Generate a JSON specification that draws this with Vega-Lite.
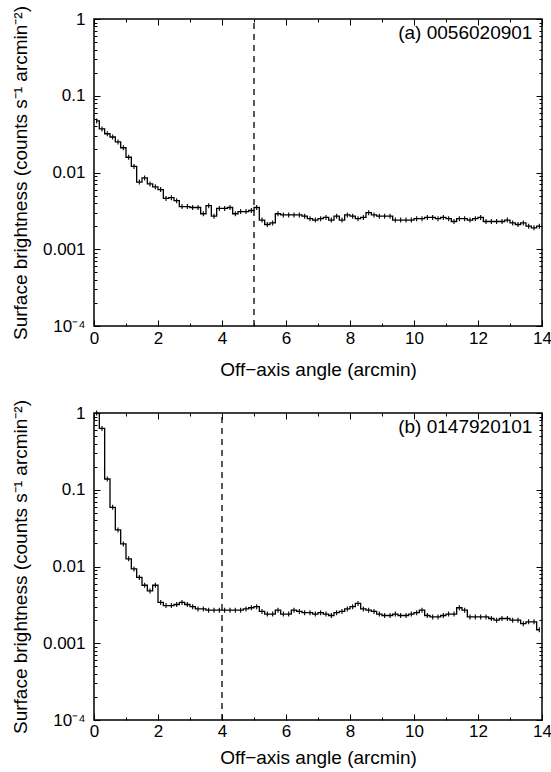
{
  "$schema": "https://vega.github.io/schema/vega-lite/v6.json",
  "background": "white",
  "padding": {"left": 10, "top": 4, "right": 0, "bottom": 0},
  "spacing": 18,
  "config": {
    "font": "Liberation Sans",
    "view": {"stroke": "black", "strokeWidth": 1.5},
    "axis": {"grid": false, "domain": false, "tickColor": "black", "tickWidth": 1, "labelColor": "black", "titleColor": "black", "labelFont": "Liberation Sans", "titleFont": "Liberation Sans", "labelFontSize": 17, "titleFontSize": 19, "titleFontWeight": "normal", "labelFlush": false}
  },
  "datasets": {
    "a": [
      {"x": 0.083, "y": 0.047}, {"x": 0.25, "y": 0.037}, {"x": 0.417, "y": 0.032}, {"x": 0.583, "y": 0.029},
      {"x": 0.75, "y": 0.025}, {"x": 0.917, "y": 0.021}, {"x": 1.083, "y": 0.0158}, {"x": 1.25, "y": 0.012},
      {"x": 1.417, "y": 0.0075}, {"x": 1.583, "y": 0.0085}, {"x": 1.75, "y": 0.0071}, {"x": 1.917, "y": 0.0065},
      {"x": 2.083, "y": 0.006}, {"x": 2.25, "y": 0.0046}, {"x": 2.417, "y": 0.0047}, {"x": 2.583, "y": 0.0043},
      {"x": 2.75, "y": 0.0036}, {"x": 2.917, "y": 0.0036}, {"x": 3.083, "y": 0.0035}, {"x": 3.25, "y": 0.0035},
      {"x": 3.417, "y": 0.0029}, {"x": 3.583, "y": 0.0037}, {"x": 3.75, "y": 0.0027}, {"x": 3.917, "y": 0.0034},
      {"x": 4.083, "y": 0.0034}, {"x": 4.25, "y": 0.0035}, {"x": 4.417, "y": 0.0029}, {"x": 4.583, "y": 0.0031},
      {"x": 4.75, "y": 0.0031}, {"x": 4.917, "y": 0.0032}, {"x": 5.083, "y": 0.0035}, {"x": 5.25, "y": 0.0024},
      {"x": 5.417, "y": 0.0021}, {"x": 5.583, "y": 0.0022}, {"x": 5.75, "y": 0.0029}, {"x": 5.917, "y": 0.0028},
      {"x": 6.083, "y": 0.0028}, {"x": 6.25, "y": 0.0028}, {"x": 6.417, "y": 0.0028}, {"x": 6.583, "y": 0.0027},
      {"x": 6.75, "y": 0.0025}, {"x": 6.917, "y": 0.0024}, {"x": 7.083, "y": 0.0025}, {"x": 7.25, "y": 0.0026},
      {"x": 7.417, "y": 0.0024}, {"x": 7.583, "y": 0.0027}, {"x": 7.75, "y": 0.0024}, {"x": 7.917, "y": 0.0028},
      {"x": 8.083, "y": 0.0027}, {"x": 8.25, "y": 0.0025}, {"x": 8.417, "y": 0.0026}, {"x": 8.583, "y": 0.003},
      {"x": 8.75, "y": 0.0028}, {"x": 8.917, "y": 0.0027}, {"x": 9.083, "y": 0.0027}, {"x": 9.25, "y": 0.0027},
      {"x": 9.417, "y": 0.0024}, {"x": 9.583, "y": 0.0024}, {"x": 9.75, "y": 0.0024}, {"x": 9.917, "y": 0.0024},
      {"x": 10.083, "y": 0.0025}, {"x": 10.25, "y": 0.0025}, {"x": 10.417, "y": 0.0026}, {"x": 10.583, "y": 0.0026},
      {"x": 10.75, "y": 0.0025}, {"x": 10.917, "y": 0.0026}, {"x": 11.083, "y": 0.0025}, {"x": 11.25, "y": 0.0023},
      {"x": 11.417, "y": 0.0025}, {"x": 11.583, "y": 0.0025}, {"x": 11.75, "y": 0.0024}, {"x": 11.917, "y": 0.0025},
      {"x": 12.083, "y": 0.0026}, {"x": 12.25, "y": 0.0023}, {"x": 12.417, "y": 0.0023}, {"x": 12.583, "y": 0.0023},
      {"x": 12.75, "y": 0.0023}, {"x": 12.917, "y": 0.0024}, {"x": 13.083, "y": 0.0022}, {"x": 13.25, "y": 0.0021},
      {"x": 13.417, "y": 0.0022}, {"x": 13.583, "y": 0.002}, {"x": 13.75, "y": 0.0019}, {"x": 13.917, "y": 0.002}
    ],
    "b": [
      {"x": 0.083, "y": 1.0}, {"x": 0.25, "y": 0.63}, {"x": 0.417, "y": 0.138}, {"x": 0.583, "y": 0.059},
      {"x": 0.75, "y": 0.03}, {"x": 0.917, "y": 0.0197}, {"x": 1.083, "y": 0.0126}, {"x": 1.25, "y": 0.0093},
      {"x": 1.417, "y": 0.0072}, {"x": 1.583, "y": 0.0057}, {"x": 1.75, "y": 0.0048}, {"x": 1.917, "y": 0.0057},
      {"x": 2.083, "y": 0.0034}, {"x": 2.25, "y": 0.0031}, {"x": 2.417, "y": 0.0031}, {"x": 2.583, "y": 0.0032},
      {"x": 2.75, "y": 0.0034}, {"x": 2.917, "y": 0.0032}, {"x": 3.083, "y": 0.003}, {"x": 3.25, "y": 0.0028},
      {"x": 3.417, "y": 0.0028}, {"x": 3.583, "y": 0.0027}, {"x": 3.75, "y": 0.0027}, {"x": 3.917, "y": 0.0027},
      {"x": 4.083, "y": 0.0027}, {"x": 4.25, "y": 0.0027}, {"x": 4.417, "y": 0.0027}, {"x": 4.583, "y": 0.0027},
      {"x": 4.75, "y": 0.0028}, {"x": 4.917, "y": 0.0029}, {"x": 5.083, "y": 0.003}, {"x": 5.25, "y": 0.0026},
      {"x": 5.417, "y": 0.0024}, {"x": 5.583, "y": 0.0024}, {"x": 5.75, "y": 0.0027}, {"x": 5.917, "y": 0.0024},
      {"x": 6.083, "y": 0.0024}, {"x": 6.25, "y": 0.0027}, {"x": 6.417, "y": 0.0026}, {"x": 6.583, "y": 0.0025},
      {"x": 6.75, "y": 0.0025}, {"x": 6.917, "y": 0.0024}, {"x": 7.083, "y": 0.0025}, {"x": 7.25, "y": 0.0024},
      {"x": 7.417, "y": 0.0023}, {"x": 7.583, "y": 0.0025}, {"x": 7.75, "y": 0.0026}, {"x": 7.917, "y": 0.0028},
      {"x": 8.083, "y": 0.003}, {"x": 8.25, "y": 0.0033}, {"x": 8.417, "y": 0.0028}, {"x": 8.583, "y": 0.0027},
      {"x": 8.75, "y": 0.0026}, {"x": 8.917, "y": 0.0024}, {"x": 9.083, "y": 0.0023}, {"x": 9.25, "y": 0.0023},
      {"x": 9.417, "y": 0.0024}, {"x": 9.583, "y": 0.0023}, {"x": 9.75, "y": 0.0023}, {"x": 9.917, "y": 0.0024},
      {"x": 10.083, "y": 0.0025}, {"x": 10.25, "y": 0.0027}, {"x": 10.417, "y": 0.0023}, {"x": 10.583, "y": 0.0022},
      {"x": 10.75, "y": 0.0022}, {"x": 10.917, "y": 0.0023}, {"x": 11.083, "y": 0.0024}, {"x": 11.25, "y": 0.0024},
      {"x": 11.417, "y": 0.0029}, {"x": 11.583, "y": 0.0027}, {"x": 11.75, "y": 0.0022}, {"x": 11.917, "y": 0.0022},
      {"x": 12.083, "y": 0.0022}, {"x": 12.25, "y": 0.0022}, {"x": 12.417, "y": 0.0021}, {"x": 12.583, "y": 0.002},
      {"x": 12.75, "y": 0.0021}, {"x": 12.917, "y": 0.0021}, {"x": 13.083, "y": 0.002}, {"x": 13.25, "y": 0.002},
      {"x": 13.417, "y": 0.0018}, {"x": 13.583, "y": 0.0019}, {"x": 13.75, "y": 0.0019}, {"x": 13.917, "y": 0.0015}
    ]
  },
  "vconcat": [
    {
      "width": 448,
      "height": 307,
      "resolve": {"axis": {"x": "independent", "y": "independent"}},
      "layer": [
        {
          "data": {"name": "a"},
          "mark": {"type": "line", "interpolate": "step", "color": "black", "strokeWidth": 1.3, "clip": true},
          "encoding": {
            "x": {"field": "x", "type": "quantitative", "scale": {"domain": [0, 14], "nice": false, "zero": false},
              "axis": {"orient": "bottom", "values": [0, 2, 4, 6, 8, 10, 12, 14], "tickSize": -6, "labelPadding": 10, "title": "Off−axis angle (arcmin)", "titlePadding": 14}},
            "y": {"field": "y", "type": "quantitative", "scale": {"type": "log", "domain": [0.0001, 1], "nice": false},
              "axis": {"orient": "left", "values": [0.0001, 0.001, 0.01, 0.1, 1], "tickSize": -6, "labelPadding": 15, "labelExpr": "datum.value < 0.0005 ? '10⁻⁴' : toString(datum.value)", "title": "Surface brightness (counts s⁻¹ arcmin⁻²)", "titlePadding": 12}}
          }
        },
        {
          "data": {"name": "a"},
          "mark": {"type": "tick", "orient": "vertical", "size": 5, "thickness": 1.1, "color": "black", "opacity": 1},
          "encoding": {
            "x": {"field": "x", "type": "quantitative", "axis": {"orient": "bottom", "values": [1, 3, 5, 7, 9, 11, 13], "tickSize": -3, "labels": false, "title": null}},
            "y": {"field": "y", "type": "quantitative", "axis": {"orient": "left", "values": [0.0002, 0.0003, 0.0004, 0.0005, 0.0006, 0.0007, 0.0008, 0.0009, 0.002, 0.003, 0.004, 0.005, 0.006, 0.007, 0.008, 0.009, 0.02, 0.03, 0.04, 0.05, 0.06, 0.07, 0.08, 0.09, 0.2, 0.3, 0.4, 0.5, 0.6, 0.7, 0.8, 0.9], "tickSize": -3, "labels": false, "title": null}}
          }
        },
        {
          "data": {"values": [{"x": 5, "y": 0.0001, "y2": 1}]},
          "mark": {"type": "rule", "strokeDash": [6, 5], "color": "black", "strokeWidth": 1.3},
          "encoding": {
            "x": {"field": "x", "type": "quantitative", "axis": {"orient": "top", "values": [0, 2, 4, 6, 8, 10, 12, 14], "tickSize": -6, "labels": false, "title": null}},
            "y": {"field": "y", "type": "quantitative", "axis": {"orient": "right", "values": [0.0001, 0.001, 0.01, 0.1, 1], "tickSize": -6, "labels": false, "title": null}},
            "y2": {"field": "y2"}
          }
        },
        {
          "data": {"values": [{"x": 13.7, "y": 0.65, "label": "(a) 0056020901"}]},
          "mark": {"type": "text", "align": "right", "baseline": "middle", "fontSize": 19, "color": "black"},
          "encoding": {
            "x": {"field": "x", "type": "quantitative", "axis": {"orient": "top", "values": [1, 3, 5, 7, 9, 11, 13], "tickSize": -3, "labels": false, "title": null}},
            "y": {"field": "y", "type": "quantitative", "axis": {"orient": "right", "values": [0.0002, 0.0003, 0.0004, 0.0005, 0.0006, 0.0007, 0.0008, 0.0009, 0.002, 0.003, 0.004, 0.005, 0.006, 0.007, 0.008, 0.009, 0.02, 0.03, 0.04, 0.05, 0.06, 0.07, 0.08, 0.09, 0.2, 0.3, 0.4, 0.5, 0.6, 0.7, 0.8, 0.9], "tickSize": -3, "labels": false, "title": null}},
            "text": {"field": "label"}
          }
        }
      ]
    },
    {
      "width": 448,
      "height": 307,
      "resolve": {"axis": {"x": "independent", "y": "independent"}},
      "layer": [
        {
          "data": {"name": "b"},
          "mark": {"type": "line", "interpolate": "step", "color": "black", "strokeWidth": 1.3, "clip": true},
          "encoding": {
            "x": {"field": "x", "type": "quantitative", "scale": {"domain": [0, 14], "nice": false, "zero": false},
              "axis": {"orient": "bottom", "values": [0, 2, 4, 6, 8, 10, 12, 14], "tickSize": -6, "labelPadding": 9, "title": "Off−axis angle (arcmin)", "titlePadding": 9}},
            "y": {"field": "y", "type": "quantitative", "scale": {"type": "log", "domain": [0.0001, 1], "nice": false},
              "axis": {"orient": "left", "values": [0.0001, 0.001, 0.01, 0.1, 1], "tickSize": -6, "labelPadding": 15, "labelExpr": "datum.value < 0.0005 ? '10⁻⁴' : toString(datum.value)", "title": "Surface brightness (counts s⁻¹ arcmin⁻²)", "titlePadding": 12}}
          }
        },
        {
          "data": {"name": "b"},
          "mark": {"type": "tick", "orient": "vertical", "size": 5, "thickness": 1.1, "color": "black", "opacity": 1},
          "encoding": {
            "x": {"field": "x", "type": "quantitative", "axis": {"orient": "bottom", "values": [1, 3, 5, 7, 9, 11, 13], "tickSize": -3, "labels": false, "title": null}},
            "y": {"field": "y", "type": "quantitative", "axis": {"orient": "left", "values": [0.0002, 0.0003, 0.0004, 0.0005, 0.0006, 0.0007, 0.0008, 0.0009, 0.002, 0.003, 0.004, 0.005, 0.006, 0.007, 0.008, 0.009, 0.02, 0.03, 0.04, 0.05, 0.06, 0.07, 0.08, 0.09, 0.2, 0.3, 0.4, 0.5, 0.6, 0.7, 0.8, 0.9], "tickSize": -3, "labels": false, "title": null}}
          }
        },
        {
          "data": {"values": [{"x": 4, "y": 0.0001, "y2": 1}]},
          "mark": {"type": "rule", "strokeDash": [6, 5], "color": "black", "strokeWidth": 1.3},
          "encoding": {
            "x": {"field": "x", "type": "quantitative", "axis": {"orient": "top", "values": [0, 2, 4, 6, 8, 10, 12, 14], "tickSize": -6, "labels": false, "title": null}},
            "y": {"field": "y", "type": "quantitative", "axis": {"orient": "right", "values": [0.0001, 0.001, 0.01, 0.1, 1], "tickSize": -6, "labels": false, "title": null}},
            "y2": {"field": "y2"}
          }
        },
        {
          "data": {"values": [{"x": 13.7, "y": 0.65, "label": "(b) 0147920101"}]},
          "mark": {"type": "text", "align": "right", "baseline": "middle", "fontSize": 19, "color": "black"},
          "encoding": {
            "x": {"field": "x", "type": "quantitative", "axis": {"orient": "top", "values": [1, 3, 5, 7, 9, 11, 13], "tickSize": -3, "labels": false, "title": null}},
            "y": {"field": "y", "type": "quantitative", "axis": {"orient": "right", "values": [0.0002, 0.0003, 0.0004, 0.0005, 0.0006, 0.0007, 0.0008, 0.0009, 0.002, 0.003, 0.004, 0.005, 0.006, 0.007, 0.008, 0.009, 0.02, 0.03, 0.04, 0.05, 0.06, 0.07, 0.08, 0.09, 0.2, 0.3, 0.4, 0.5, 0.6, 0.7, 0.8, 0.9], "tickSize": -3, "labels": false, "title": null}},
            "text": {"field": "label"}
          }
        }
      ]
    }
  ]
}
